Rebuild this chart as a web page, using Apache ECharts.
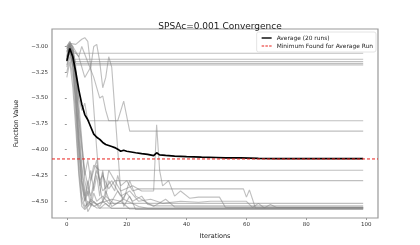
<!DOCTYPE html>
<html>
<head>
<meta charset="utf-8">
<script src="https://cdn.jsdelivr.net/npm/echarts@6/dist/echarts.min.js"></script>
<style>
html,body{margin:0;padding:0;background:#fff;}
#chart{width:420px;height:245px;}
</style>
</head>
<body>
<div id="chart"></div>
<script>
// ---- data: [iteration, function value] ----
const run01 = [[0,-3.02],[1,-2.98],[2,-3.066],[99,-3.066]];
const run02 = [[0,-3.06],[1,-3.00],[2,-3.124],[99,-3.124]];
const run03 = [[0,-3.10],[1,-3.02],[2,-3.147],[99,-3.147]];
const run04 = [[0,-3.04],[1,-2.99],[2,-3.05],[3,-3.166],[99,-3.166]];
const run05 = [[0,-3.12],[1,-3.03],[2,-3.18],[99,-3.18]];
const run06 = [[0,-3.10],[1,-3.00],[2,-3.10],[3,-3.30],[4,-3.50],[5,-3.62],[6,-3.55],[7,-3.72],[99,-3.72]];
const run07 = [[0,-3.02],[1,-2.97],[2,-3.03],[4,-3.10],[5,-3.00],[7,-3.15],[9,-3.30],[11,-3.50],[12,-3.48],[13,-3.62],[14,-3.72],[17,-3.72],[19,-3.53],[21,-3.82],[99,-3.82]];
const run08 = [[0,-3.08],[1,-3.00],[2,-3.05],[3,-3.35],[4,-3.70],[5,-4.00],[6,-4.25],[7,-4.10],[8,-4.30],[9,-4.15],[11,-4.20],[99,-4.20]];
const run09 = [[0,-3.12],[1,-2.99],[2,-3.08],[3,-3.30],[4,-3.65],[5,-3.95],[6,-4.20],[7,-4.35],[8,-4.20],[9,-4.40],[10,-4.25],[11,-4.45],[12,-4.22],[13,-4.38],[14,-4.20],[16,-4.30],[99,-4.30]];
const run10 = [[0,-3.00],[1,-2.96],[2,-3.00],[3,-3.20],[4,-3.55],[5,-3.90],[6,-4.30],[7,-4.45],[8,-4.30],[10,-4.10],[11,-4.35],[12,-4.20],[13,-4.45],[14,-4.30],[16,-4.40],[17,-4.25],[18,-4.35],[20,-4.30],[22,-4.40],[24,-4.38],[59,-4.38],[60,-4.46],[61,-4.39],[63,-4.565],[99,-4.565]];
const run11 = [[0,-3.15],[1,-3.02],[2,-3.10],[3,-3.45],[4,-3.85],[5,-4.20],[6,-4.45],[7,-4.30],[8,-4.50],[9,-4.35],[10,-4.15],[11,-4.30],[12,-4.25],[14,-4.38],[16,-4.30],[18,-4.40],[22,-4.35],[25,-4.40],[29,-4.40],[30,-3.76],[31,-4.20],[32,-4.35],[34,-4.30],[36,-4.45],[38,-4.40],[41,-4.47],[44,-4.46],[51,-4.46],[53,-4.56],[99,-4.56]];
const run12 = [[0,-3.20],[1,-3.05],[2,-3.20],[3,-3.55],[4,-4.00],[5,-4.35],[6,-4.50],[7,-4.40],[8,-4.55],[9,-4.42],[10,-4.50],[12,-4.45],[14,-4.52],[99,-4.52]];
const run13 = [[0,-3.10],[1,-3.00],[2,-3.15],[3,-3.60],[4,-4.10],[5,-4.45],[6,-4.55],[8,-4.50],[10,-4.53],[15,-4.48],[18,-4.50],[20,-4.42],[22,-4.50],[25,-4.45],[27,-4.53],[30,-4.545],[99,-4.545]];
const run14 = [[0,-3.25],[1,-3.10],[2,-3.30],[3,-3.70],[4,-4.20],[5,-4.50],[6,-4.57],[7,-4.50],[9,-4.55],[12,-4.50],[14,-4.55],[17,-4.40],[19,-4.48],[21,-4.30],[23,-4.45],[26,-4.50],[29,-4.55],[33,-4.48],[36,-4.555],[99,-4.555]];
const run15 = [[0,-3.05],[1,-2.98],[2,-3.05],[3,-3.40],[4,-3.90],[5,-4.30],[6,-4.50],[7,-4.35],[8,-4.45],[10,-4.20],[12,-4.40],[15,-4.30],[18,-4.45],[21,-4.40],[24,-4.50],[28,-4.48],[32,-4.52],[38,-4.50],[44,-4.51],[48,-4.50],[60,-4.50],[62,-4.56],[64,-4.52],[66,-4.565],[68,-4.53],[70,-4.56],[99,-4.56]];
const run16 = [[0,-3.30],[1,-3.15],[2,-3.40],[3,-3.80],[4,-4.25],[5,-4.55],[6,-4.58],[8,-4.52],[10,-4.565],[99,-4.565]];
const run17 = [[0,-3.00],[1,-2.95],[2,-3.02],[3,-3.30],[4,-3.75],[5,-4.15],[6,-4.40],[7,-4.55],[8,-4.48],[11,-4.55],[13,-4.45],[16,-4.53],[19,-4.48],[24,-4.55],[27,-4.567],[99,-4.567]];
const run18 = [[0,-3.18],[1,-3.05],[2,-3.20],[3,-3.50],[4,-3.95],[5,-4.30],[6,-4.45],[7,-4.60],[9,-4.50],[11,-4.57],[13,-4.52],[15,-4.57],[99,-4.57]];
const run19 = [[0,-3.02],[1,-2.97],[3,-2.98],[5,-2.93],[6,-2.915],[7,-2.95],[8,-3.20],[9,-3.60],[10,-4.00],[11,-4.35],[12,-4.50],[13,-4.40],[15,-4.55],[18,-4.50],[21,-4.575],[99,-4.575]];
const run20 = [[0,-3.05],[1,-2.98],[2,-3.00],[4,-3.10],[6,-3.30],[8,-3.20],[9,-3.00],[10,-2.98],[11,-3.15],[12,-3.40],[13,-3.30],[14,-3.10],[15,-3.20],[16,-3.60],[17,-4.00],[18,-4.40],[19,-4.55],[21,-4.45],[23,-4.58],[99,-4.58]];
const averageRun = [[0,-3.14],[1,-3.02],[2,-3.10],[3,-3.25],[4,-3.42],[5,-3.56],[6,-3.66],[7,-3.71],[8,-3.78],[9,-3.85],[10,-3.88],[11,-3.90],[12,-3.93],[13,-3.95],[14,-3.96],[15,-3.97],[16,-3.98],[17,-3.995],[18,-4.015],[19,-4.005],[20,-4.015],[21,-4.02],[22,-4.025],[23,-4.03],[25,-4.038],[27,-4.045],[29,-4.058],[30,-4.03],[31,-4.05],[33,-4.055],[36,-4.062],[40,-4.068],[45,-4.073],[50,-4.076],[53,-4.079],[58,-4.08],[61,-4.082],[64,-4.085],[70,-4.086],[99,-4.087]];
const minimumValue = -4.09;
const xTicks = [0, 20, 40, 60, 80, 100];
const yTicks = [-4.5, -4.25, -4.0, -3.75, -3.5, -3.25, -3.0];
const titleText = 'SPSAc=0.001 Convergence';
const avgName = 'Average (20 runs)';
const minName = 'Minimum Found for Average Run';

// axis limits (matplotlib-style 5% margins)
const X_MIN = -4.95, X_MAX = 103.95;
const Y_MIN = -4.662, Y_MAX = -2.831;

const runs = [run01,run02,run03,run04,run05,run06,run07,run08,run09,run10,
              run11,run12,run13,run14,run15,run16,run17,run18,run19,run20];

const RED = '#e8201c';
const series = runs.map((r, i) => ({
  name: 'run' + (i + 1),
  type: 'line',
  data: r,
  symbol: 'none',
  silent: true,
  animation: false,
  lineStyle: { color: 'rgba(128,128,128,0.5)', width: 1.1 },
  z: 2
}));
series.push({
  name: avgName, type: 'line', data: averageRun, symbol: 'none', animation: false,
  color: '#000',
  lineStyle: { color: '#000', width: 1.7 }, itemStyle: { color: '#000' }, z: 5
});
// horizontal line across the whole axes at the minimum of the average run
series.push({
  name: minName, type: 'line', symbol: 'none', animation: false, silent: true,
  data: [[X_MIN, minimumValue], [X_MAX, minimumValue]],
  color: RED,
  lineStyle: { color: RED, width: 1, type: [3, 2] }, itemStyle: { color: RED },
  z: 6
});

const fmtY = v => (v < 0 ? '\u2212' : '') + Math.abs(v).toFixed(2);
const chart = echarts.init(document.getElementById('chart'), null, { renderer: 'canvas' });
chart.setOption({
  animation: false,
  backgroundColor: '#fff',
  textStyle: { fontFamily: 'DejaVu Sans' },
  title: {
    text: titleText, left: 215, top: 17, textAlign: 'center',
    textStyle: { fontSize: 9, fontWeight: 'normal', color: '#222', fontFamily: 'DejaVu Sans' }
  },
  legend: {
    data: [
      { name: avgName, icon: 'rect', itemStyle: { color: '#000' } },
      { name: minName, icon: 'path://M0,0H3V1H0Z M4.5,0H7.5V1H4.5Z M9,0H12V1H9Z', itemStyle: { color: RED } }
    ],
    orient: 'vertical', right: 44, top: 32,
    itemWidth: 10, itemHeight: 1.4, itemGap: 2,
    padding: [3, 3, 3, 5],
    backgroundColor: '#fff', borderColor: '#ddd', borderWidth: 0.8, borderRadius: 2,
    textStyle: { fontSize: 5.9, color: '#222', fontFamily: 'DejaVu Sans' },
    selectedMode: false
  },
  grid: { left: 52, right: 42, top: 29, bottom: 27, show: true, borderColor: '#999', borderWidth: 1.2, backgroundColor: 'transparent' },
  xAxis: {
    type: 'value', min: X_MIN, max: X_MAX,
    name: 'Iterations', nameLocation: 'middle', nameGap: 15,
    nameTextStyle: { fontSize: 6.5, color: '#222' },
    axisLine: { show: false },
    splitLine: { show: false },
    axisTick: { show: true, length: 2, lineStyle: { color: '#999' }, customValues: xTicks },
    axisLabel: { fontSize: 5.5, color: '#333', margin: 4, customValues: xTicks, formatter: v => String(v) }
  },
  yAxis: {
    type: 'value', min: Y_MIN, max: Y_MAX,
    name: 'Function Value', nameLocation: 'middle', nameGap: 26, nameRotate: 90,
    nameTextStyle: { fontSize: 6.5, color: '#222' },
    axisLine: { show: false },
    splitLine: { show: false },
    axisTick: { show: true, length: 2, lineStyle: { color: '#999' }, customValues: yTicks },
    axisLabel: { fontSize: 5.5, color: '#333', margin: 4, customValues: yTicks, formatter: fmtY }
  },
  series: series
});
</script>
</body>
</html>
